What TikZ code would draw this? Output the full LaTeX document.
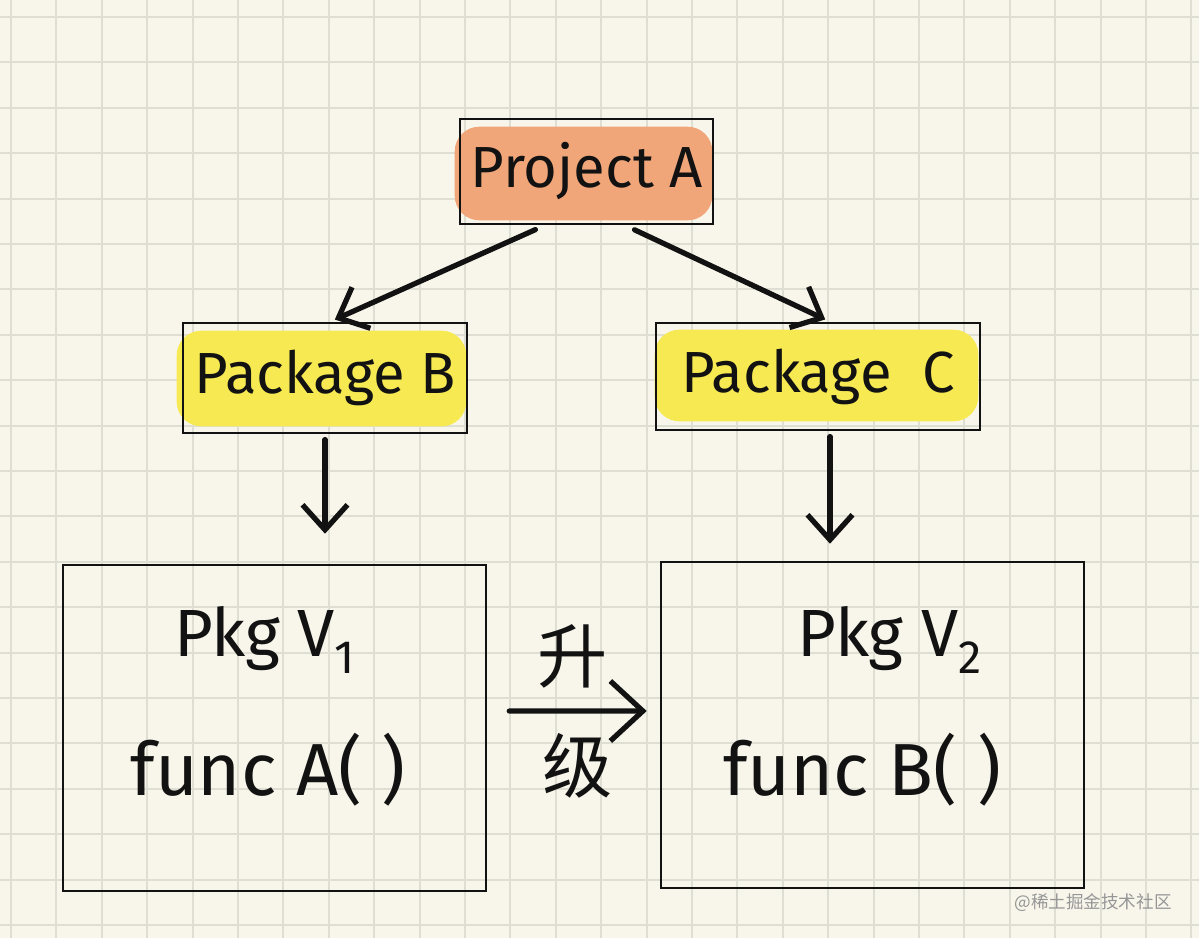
\documentclass[tikz,border=0pt]{standalone}
\usepackage{fontspec}
\setmainfont{Fira Sans}
\newfontfamily\cjkfont{Noto Sans CJK SC}
\usetikzlibrary{arrows.meta,positioning}
\definecolor{paperbg}{RGB}{248,246,235}
\definecolor{gridgray}{RGB}{222,222,210}
\definecolor{hlorange}{RGB}{241,166,122}
\definecolor{hlyellow}{RGB}{246,233,82}
\definecolor{inkblack}{RGB}{18,18,18}
\definecolor{markgray}{RGB}{150,150,150}
\pgfdeclarelayer{paper}
\pgfdeclarelayer{marker}
\pgfsetlayers{paper,marker,main}
\tikzset{
  pkgbox/.style={draw=inkblack,line width=1.5pt,inner sep=0pt,
    font=\fontsize{33}{38}\selectfont,text=inkblack},
  verbox/.style={draw=inkblack,line width=1.5pt,
    minimum width=8.46cm,minimum height=6.52cm},
  handtext/.style={font=\fontsize{38}{44}\selectfont,text=inkblack},
  functext/.style={font=\fontsize{42}{48}\selectfont,text=inkblack},
  cjkmark/.style={font=\cjkfont\fontsize{40}{46}\selectfont,text=inkblack,inner sep=0pt},
  inkarrow/.style={-{Straight Barb[length=5mm,width=9mm]},
    line width=3pt,color=inkblack,line cap=round,line join=round},
  gridline/.style={draw=gridgray,line width=1.1pt},
}

\begin{document}
\begin{tikzpicture}[x=0.02cm,y=-0.02cm]
\useasboundingbox (0,0) rectangle (1199,938);
\begin{pgfonlayer}{paper}
\fill[paperbg] (0,0) rectangle (1199,938);
\foreach \gx in {0,...,26}
  \draw[gridline] ({11+45.4*\gx},0) -- ({11+45.4*\gx},938);
\foreach \gy in {0,...,20}
  \draw[gridline] (0,{17+45.4*\gy}) -- (1199,{17+45.4*\gy});
\end{pgfonlayer}
% dependency boxes
\node[pkgbox,minimum width=5.06cm,minimum height=2.1cm](projA)
  at(586.5,171.5){Project A};
\node[pkgbox,minimum width=5.68cm,minimum height=2.2cm](pkgB)
  at(325,378){Package B};
\node[pkgbox,minimum width=6.48cm,minimum height=2.14cm](pkgC)
  at(818,376.5){Package\ \ C};
\node[verbox](verOne) at(274.5,728){};
\node[verbox](verTwo) at(872.5,725){};
\node[handtext](verOneName) at(265,640){Pkg V\textsubscript{1}};
\node[functext](verOneFunc) at(268,770){func A( )};
\node[handtext](verTwoName) at(890,640){Pkg V\textsubscript{2}};
\node[functext](verTwoFunc) at(862,770){func B( )};
\node[font=\cjkfont\fontsize{10}{12}\selectfont,text=markgray](mark)
  at(1093,903){@稀土掘金技术社区};
% marker strokes
\begin{pgfonlayer}{marker}
\fill[hlorange,rounded corners=14pt]
  ([xshift=-0.08cm,yshift=-0.18cm]projA.north west) rectangle
  ([xshift=-0.04cm,yshift=0.1cm]projA.south east);
\fill[hlyellow,rounded corners=14pt]
  ([xshift=-0.1cm,yshift=-0.18cm]pkgB.north west) rectangle
  ([xshift=-0.04cm,yshift=0.16cm]pkgB.south east);
\fill[hlyellow,rounded corners=14pt]
  ([xshift=0cm,yshift=-0.16cm]pkgC.north west) rectangle
  ([xshift=-0.06cm,yshift=0.2cm]pkgC.south east);
\end{pgfonlayer}
% arrows
\draw[inkarrow,shorten <=6pt,shorten >=3pt]
  ([xshift=-0.83cm]projA.south) -- ([xshift=0.1cm]pkgB.north);
\draw[inkarrow,shorten <=6pt,shorten >=3pt]
  ([xshift=0.77cm]projA.south) -- ([xshift=0.24cm]pkgC.north);
\draw[inkarrow,shorten <=3pt,shorten >=0.6cm]
  (pkgB.south) -- (pkgB.south |- verOne.north);
\draw[inkarrow,shorten <=3pt,shorten >=0.34cm]
  ([xshift=0.24cm]pkgC.south) -- ([xshift=0.24cm]pkgC.south |- verTwo.north);
\draw[inkarrow,-{Straight Barb[length=6.5mm,width=12mm]}]
  ([xshift=0.44cm,yshift=0.34cm]verOne.east) --
  node[cjkmark,above=0.4cm,xshift=-0.1cm]{升}
  node[cjkmark,below=0.4cm]{级}
  ([xshift=-0.26cm,yshift=0.28cm]verTwo.west);
\end{tikzpicture}
\end{document}
